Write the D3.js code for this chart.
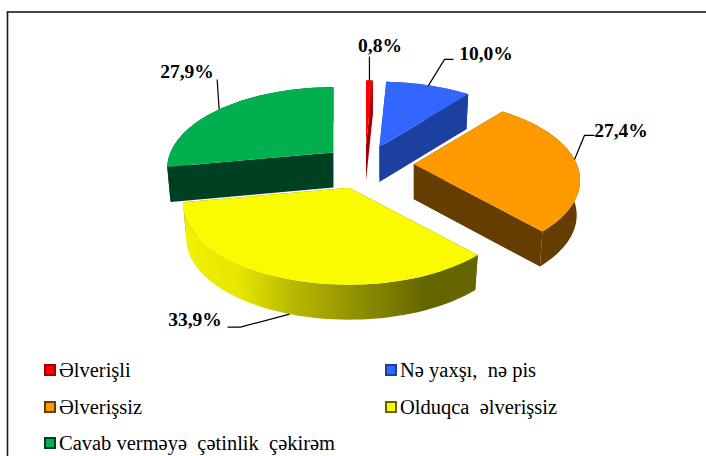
<!DOCTYPE html>
<html><head><meta charset="utf-8">
<script src="https://cdn.jsdelivr.net/npm/d3@7"></script>
<style>html,body{margin:0;padding:0;background:#fff}svg{display:block}
text{font-family:"Liberation Serif","Times New Roman",Times,"DejaVu Serif",serif;white-space:pre}</style></head>
<body><svg id="c" width="706" height="456"></svg>
<script>
const categories = ["Əlverişli","Nə yaxşı,  nə pis","Əlverişsiz","Olduqca  əlverişsiz","Cavab verməyə  çətinlik  çəkirəm"];
const values = [0.8,10.0,27.4,33.9,27.9];
const valueLabels = ["0,8%","10,0%","27,4%","33,9%","27,9%"];
const topColors = ["#ff0000","#3366ff","#ff9900","#fafa00","#00b050"];
const sideColors = ["#a00000","#1f3fa0","#663c00","#666600","#004020"];

const svg = d3.select("#c");
const cx=365, cy=165, rx=163, ry=78, persp=0.196, depth=35, vanish=0.02;
const explode=[0.26,0.26,0.3,0.29,0.26];
const defs = svg.append("defs");
defs.append("filter").attr("id","soft").append("feGaussianBlur").attr("stdDeviation",0.55);
const g0 = defs.append("linearGradient").attr("id","rimY").attr("gradientUnits","userSpaceOnUse")
  .attr("x1",180).attr("x2",478).attr("y1",0).attr("y2",0);
[[0,"#f2f200"],[0.2,"#e6e600"],[0.38,"#b8b800"],[0.6,"#8f8f00"],[0.82,"#666600"],[1,"#666600"]]
  .forEach(s=>g0.append("stop").attr("offset",s[0]).attr("stop-color",s[1]));

svg.append("rect").attr("x",7.5).attr("y",12).attr("width",720).attr("height",470)
  .attr("fill","#fff").attr("stroke","#1a1a1a").attr("stroke-width",1.6);

const pie = d3.pie().sort(null).value(d=>d);
const arcs = pie(values);
const line = d3.line();
function proj(u,v){const w=1/(1-v*persp);return [rx*u*w, ry*v*w, w];}
function apexOf(i){const a=arcs[i],m=(a.startAngle+a.endAngle)/2,e=explode[i];
  const p=proj(e*Math.sin(m),-e*Math.cos(m));return [cx+p[0],cy+p[1]];}
function rimPt(i,t,lower){const ap=apexOf(i);const p=proj(Math.sin(t),-Math.cos(t));
  return lower ? [ap[0]+p[0]*(1-vanish),ap[1]+p[1]+depth] : [ap[0]+p[0],ap[1]+p[1]];}
function angles(a){const n=60;return d3.range(n+1).map(k=>a.startAngle+(a.endAngle-a.startAngle)*k/n);}

const pieG = svg.append("g").attr("filter","url(#soft)");
[4,0,1,2,3].forEach(i=>{
  const a=arcs[i], ap=apexOf(i), ts=angles(a), bot=[ap[0],ap[1]+depth];
  const side = i===3 ? "url(#rimY)" : sideColors[i];
  [ts[0],ts[ts.length-1]].forEach(t=>pieG.append("path").attr("fill",sideColors[i])
    .attr("d",line([ap,rimPt(i,t,false),rimPt(i,t,true),bot])+"Z"));
  const upper=ts.map(t=>rimPt(i,t,false)), lower=ts.map(t=>rimPt(i,t,true)).reverse();
  pieG.append("path").attr("fill",side).attr("d",line(upper.concat(lower))+"Z");
  pieG.append("path").attr("fill",topColors[i]).attr("d",line([ap].concat(upper))+"Z");
});

// leader lines: start on each slice's rim, bend toward the label
const leaderPct=[0.4,5.8,24,54.9,85.6];
const leaderLower=[false,false,false,true,false];
const leaderBends=[[[0,-24]],[[16,-26],[25,-26]],[[10,-24],[20,-24]],[[-49,13],[-62,13]],[[-2,-30]]];
const labelPos=[[380,52],[486,60],[621,137],[195,326],[187,78]];
arcs.forEach((a,i)=>{
  const start=rimPt(i,leaderPct[i]/100*2*Math.PI,leaderLower[i]);
  const pts=[start].concat(leaderBends[i].map(b=>[start[0]+b[0],start[1]+b[1]]));
  svg.append("path").attr("fill","none").attr("stroke","#000").attr("stroke-width",1.2).attr("d",line(pts));
  svg.append("text").attr("x",labelPos[i][0]).attr("y",labelPos[i][1]).attr("text-anchor","middle")
    .attr("font-size",19.5).attr("font-weight","bold").attr("fill","#000").text(valueLabels[i]);
});

// legend
const legCols=[44,385], legRows=[370,407,443];
categories.forEach((c,i)=>{
  const x=legCols[i%2], y=legRows[Math.floor(i/2)];
  svg.append("rect").attr("x",x).attr("y",y-6).attr("width",12).attr("height",12)
    .attr("fill",sideColors[i]).attr("filter","url(#soft)");
  svg.append("rect").attr("x",x+2).attr("y",y-4).attr("width",8).attr("height",8).attr("fill",topColors[i]);
  svg.append("text").attr("x",x+15).attr("y",y+7).attr("font-size",20.5).attr("fill","#000").text(c);
});
</script></body></html>
